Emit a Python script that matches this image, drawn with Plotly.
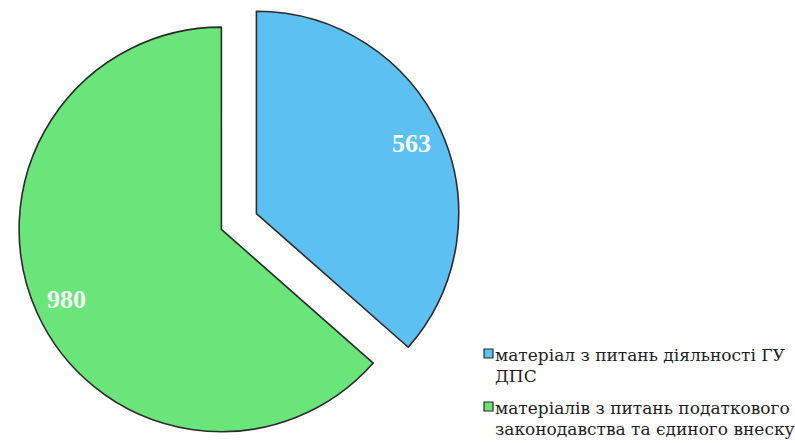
import numpy as np
import plotly.graph_objects as go

# ---- data ----
labels = [
    "матеріал з питань діяльності ГУ<br>ДПС",
    "матеріалів з питань податкового<br>законодавства та єдиного внеску",
]
values = [563, 980]
colors = ["#5CC0F2", "#69E57A"]

W, H = 795, 443
PULL = 0.095
DOM_X = [0.0, 0.601]

fig = go.Figure()
fig.add_trace(go.Pie(
    labels=labels,
    values=values,
    sort=False,
    direction="clockwise",
    rotation=0,
    pull=[PULL, PULL],
    marker=dict(colors=colors, line=dict(color="#2b2b2b", width=1.6)),
    textinfo="none",
    hoverinfo="label+value",
    showlegend=False,
    domain=dict(x=DOM_X, y=[0, 1]),
))

# pie geometry as plotly computes it (for value label placement)
box_w = W * (DOM_X[1] - DOM_X[0])
box_h = H
R = min(box_w, box_h) / (2 + 2 * PULL)
cx = W * (DOM_X[0] + DOM_X[1]) / 2
cy = H / 2
total = sum(values)
start = 0.0
for v in values:
    frac = v / total
    mid = (start + frac / 2) * 2 * np.pi
    d = R * (PULL + 0.84)
    px = cx + d * np.sin(mid)
    py = cy - d * np.cos(mid)
    fig.add_annotation(
        x=px / W, y=1 - py / H, xref="paper", yref="paper",
        text=f"<b>{v}</b>", showarrow=False,
        font=dict(family="Liberation Serif", size=26, color="#F4FAF4"),
        xanchor="center", yanchor="middle",
    )
    start += frac

# custom legend (square symbol + wrapped serif text)
FONT = "DejaVu Serif"
leg_x = 493
sym = 9
line_h = 21
item_base = [362, 415]  # baseline of first line of each item
for lab, col, base in zip(labels, colors, item_base):
    lines = lab.split("<br>")
    for k, ln in enumerate(lines):
        fig.add_annotation(
            x=leg_x / W, y=1 - (base + k * line_h + 5) / H,
            xref="paper", yref="paper", text=ln, showarrow=False,
            xanchor="left", yanchor="bottom",
            font=dict(family=FONT, size=17, color="#1e1e1e"),
        )
    cyy = base - 8.5
    fig.add_shape(
        type="rect", xref="paper", yref="paper",
        x0=(leg_x - 9) / W, x1=(leg_x - 9 + sym) / W,
        y0=1 - (cyy + sym / 2) / H, y1=1 - (cyy - sym / 2) / H,
        fillcolor=col, line=dict(color="#2b2b2b", width=1.2),
    )

fig.update_layout(
    width=W, height=H,
    margin=dict(l=0, r=0, t=0, b=0),
    paper_bgcolor="white", plot_bgcolor="white",
)
fig.write_html("out.html", config={"displayModeBar": False},
               post_script="document.body.style.margin='0';")
